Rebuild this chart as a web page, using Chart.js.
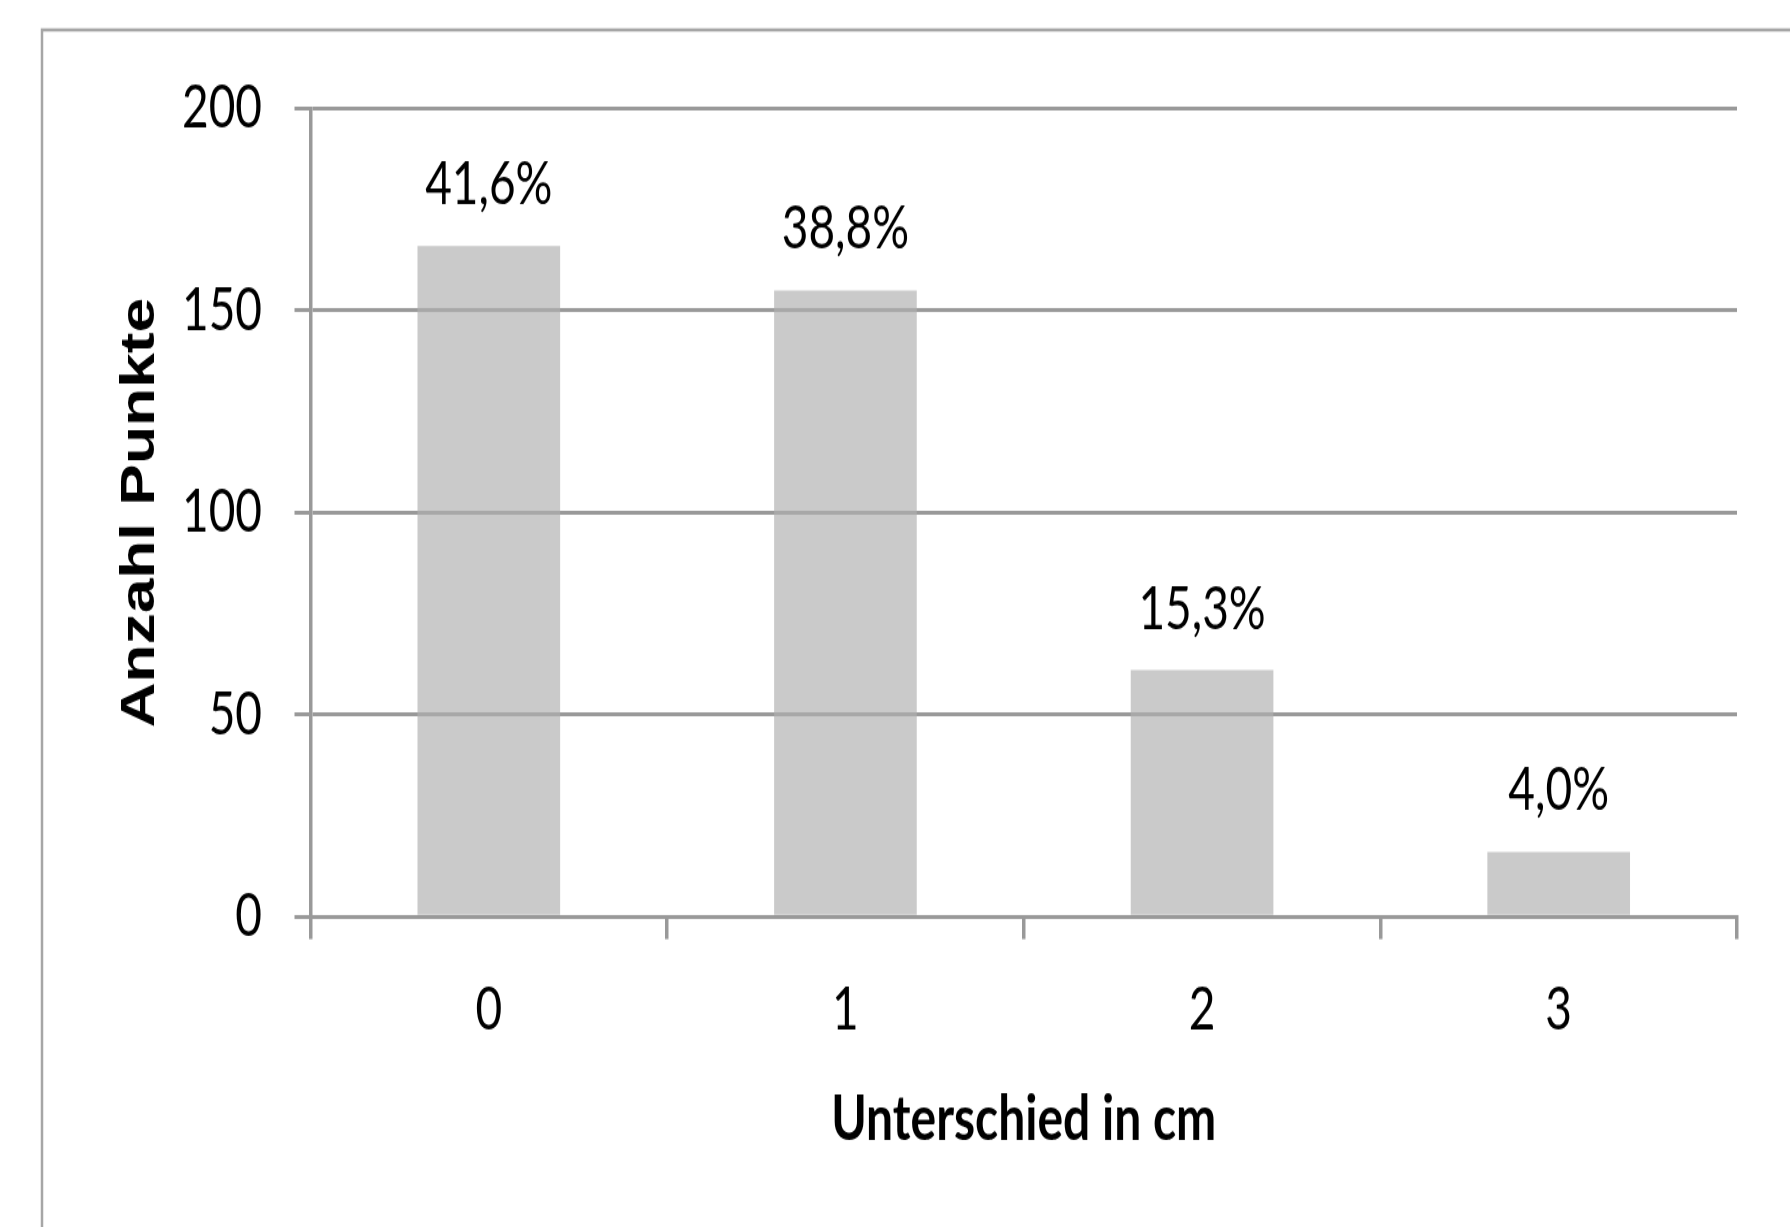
<!DOCTYPE html>
<html>
<head>
<meta charset="utf-8">
<title>Anzahl Punkte nach Unterschied in cm</title>
<script src="https://cdn.jsdelivr.net/npm/chart.js@4/dist/chart.umd.min.js"></script>
<style>
  html, body { margin: 0; padding: 0; background: #ffffff; overflow: hidden; }
  #chart { display: block; width: 1790px; height: 1227px; }
</style>
</head>
<body>
<!-- drawn at a shorter height and shown stretched, giving the tall narrow lettering -->
<canvas id="chart" width="1790" height="944" style="width:1790px;height:1227px"></canvas>
<script>
// Differences in cm (categories)
const categories = ['0', '1', '2', '3'];
// Number of points per difference
const counts = [166, 155, 61, 16];
// Share of all points, in percent
const shares = [41.6, 38.8, 15.3, 4.0];
// Value axis ticks
const yTicks = [0, 50, 100, 150, 200];

const GRID = '#999999';

// White page and the grey frame around the chart
const framePlugin = {
  id: 'frame',
  beforeDraw(chart) {
    const ctx = chart.ctx;
    ctx.save();
    ctx.fillStyle = '#ffffff';
    ctx.fillRect(0, 0, chart.width, chart.height);
    ctx.strokeStyle = '#a6a6a6';
    ctx.lineWidth = 2.5;
    ctx.beginPath();
    ctx.moveTo(42, chart.height + 10);
    ctx.lineTo(42, 23.1);
    ctx.lineTo(chart.width + 10, 23.1);
    ctx.stroke();
    ctx.restore();
  }
};

// Percentage labels above each bar
const shareLabels = {
  id: 'shareLabels',
  afterDatasetsDraw(chart) {
    const ctx = chart.ctx;
    const meta = chart.getDatasetMeta(0);
    ctx.save();
    ctx.font = '46px Lato';
    ctx.fillStyle = '#000000';
    ctx.textAlign = 'center';
    ctx.textBaseline = 'alphabetic';
    meta.data.forEach((bar, i) => {
      const txt = shares[i].toFixed(1).replace('.', ',') + '%';
      ctx.fillText(txt, bar.x, bar.y - 32);
    });
    ctx.restore();
  }
};

function build() {
  new Chart(document.getElementById('chart'), {
    type: 'bar',
    data: {
      labels: categories,
      datasets: [{
        data: counts,
        backgroundColor: 'rgba(176,176,176,0.667)',
        borderWidth: 0,
        barPercentage: 0.4,
        categoryPercentage: 1.0
      }]
    },
    options: {
      responsive: false,
      animation: false,
      devicePixelRatio: 1,
      layout: { padding: { left: 0, right: 53, top: 83.5, bottom: 0 } },
      plugins: {
        legend: { display: false },
        tooltip: { enabled: false }
      },
      scales: {
        x: {
          type: 'category',
          offset: true,
          grid: {
            offset: true,
            drawOnChartArea: false,
            drawTicks: true,
            tickLength: 17.3,
            color: GRID,
            lineWidth: 3.5
          },
          border: { display: true, color: GRID, width: 3 },
          ticks: {
            color: '#000000',
            font: { family: 'Lato', size: 46 },
            padding: 26.9,
            maxRotation: 0
          },
          title: {
            display: true,
            text: 'Unterschied in cm',
            color: '#000000',
            font: { family: 'Lato', size: 48, weight: 'bold' },
            padding: { top: 0, bottom: 54 }
          },
          afterFit(scale) { scale.height = 238.8; }
        },
        y: {
          min: yTicks[0],
          max: yTicks[yTicks.length - 1],
          afterBuildTicks(scale) { scale.ticks = yTicks.map(v => ({ value: v })); },
          grid: {
            color: GRID,
            lineWidth: 3,
            drawTicks: true,
            tickLength: 16
          },
          border: { display: true, color: GRID, width: 3.5 },
          ticks: {
            color: '#000000',
            font: { family: 'Lato', size: 46 },
            padding: 32.5
          },
          title: {
            display: true,
            text: 'Anzahl Punkte',
            color: '#000000',
            font: { family: 'Liberation Sans', size: 48, weight: 'bold' },
            padding: { top: 112.2, bottom: 0 }
          },
          afterFit(scale) { scale.width = 310.5; }
        }
      }
    },
    plugins: [framePlugin, shareLabels]
  });
}

if (document.fonts && document.fonts.load) {
  Promise.all([
    document.fonts.load('46px Lato'),
    document.fonts.load('bold 48px Lato'),
    document.fonts.load('bold 48px "Liberation Sans"')
  ]).then(build, build);
} else {
  build();
}
</script>
</body>
</html>
